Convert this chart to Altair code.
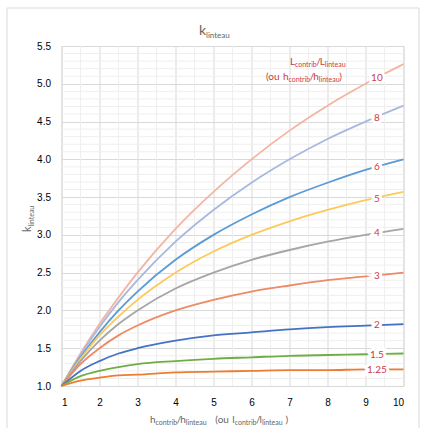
import altair as alt
import pandas as pd
import numpy as np

# ---------------- data ----------------
x_vals = [1, 1.5, 2, 2.5, 3, 4, 5, 6, 7, 8, 9, 10]
ratios = ["10", "8", "6", "5", "4", "3", "2", "1.5", "1.25"]
k_10 = [1.0, 1.43, 1.82, 2.17, 2.50, 3.08, 3.57, 4.00, 4.38, 4.71, 5.00, 5.26]
k_8 = [1.0, 1.41, 1.78, 2.11, 2.40, 2.91, 3.33, 3.69, 4.00, 4.27, 4.50, 4.71]
k_6 = [1.0, 1.38, 1.71, 2.00, 2.25, 2.67, 3.00, 3.27, 3.50, 3.69, 3.86, 4.00]
k_5 = [1.0, 1.36, 1.67, 1.92, 2.14, 2.50, 2.78, 3.00, 3.18, 3.33, 3.46, 3.57]
k_4 = [1.0, 1.33, 1.60, 1.82, 2.00, 2.29, 2.50, 2.67, 2.80, 2.91, 3.00, 3.08]
k_3 = [1.0, 1.29, 1.50, 1.67, 1.80, 2.00, 2.14, 2.25, 2.33, 2.40, 2.45, 2.50]
k_2 = [1.0, 1.20, 1.33, 1.43, 1.50, 1.60, 1.67, 1.71, 1.75, 1.78, 1.80, 1.82]
k_15 = [1.0, 1.13, 1.20, 1.25, 1.29, 1.33, 1.36, 1.38, 1.40, 1.41, 1.42, 1.43]
k_125 = [1.0, 1.07, 1.11, 1.14, 1.15, 1.18, 1.19, 1.20, 1.21, 1.21, 1.22, 1.22]
series = [k_10, k_8, k_6, k_5, k_4, k_3, k_2, k_15, k_125]
colors = ["#F3B5A2", "#A9B8DF", "#5B9BD5", "#FBCB5A", "#A5A5A5",
          "#EE8A65", "#4472C4", "#70AD47", "#ED7D31"]

label_x = 9.3
label_k = [5.07, 4.55, 3.90, 3.48, 3.03, 2.45, 1.81, 1.41, 1.21]

x_ticks = list(range(1, 11))
y_ticks = [1.0, 1.5, 2.0, 2.5, 3.0, 3.5, 4.0, 4.5, 5.0, 5.5]

# ---------------- tables ----------------
rows = []
for r, ks in zip(ratios, series):
    for x, k in zip(x_vals, ks):
        rows.append({"x": x, "k": k, "ratio": r})
df = pd.DataFrame(rows)
lab = pd.DataFrame({"x": [label_x] * len(ratios), "k": label_k, "ratio": ratios})

x_minor = pd.DataFrame({"v": [v + 0.5 for v in x_ticks[:-1]]})
y_minor = pd.DataFrame({"v": [round(v, 1) for v in np.arange(1.1, 5.5, 0.1)
                              if abs(round(v * 10) % 5) != 0]})

W, H = 342, 340
xs = alt.Scale(domain=[1, 10], nice=False)
ys = alt.Scale(domain=[1.0, 5.5], nice=False)
FONT = "Lato"
GRAY = "#666666"
RED = "#CC3B47"

ax_x = alt.Axis(values=x_ticks, title=None, grid=True, gridColor="#d9d9d9", ticks=False,
                domain=False, labelPadding=11, format="d")
ax_y = alt.Axis(values=y_ticks, title=None, grid=True, gridColor="#d9d9d9", ticks=False,
                domain=False, labelPadding=11, format=".1f")

minor_x = alt.Chart(x_minor).mark_rule(color="#efefef", strokeWidth=1).encode(
    x=alt.X("v:Q", scale=xs, axis=ax_x))
minor_y = alt.Chart(y_minor).mark_rule(color="#efefef", strokeWidth=1).encode(
    y=alt.Y("v:Q", scale=ys, axis=ax_y))

color = alt.Color("ratio:N", scale=alt.Scale(domain=ratios, range=colors), legend=None)

lines = alt.Chart(df).mark_line(interpolate="monotone", strokeWidth=1.8).encode(
    x=alt.X("x:Q", scale=xs, axis=ax_x),
    y=alt.Y("k:Q", scale=ys, axis=ax_y),
    color=color,
    detail="ratio:N",
)

halo = alt.Chart(lab).mark_text(font=FONT, fontSize=10, color="white", stroke="white",
                                strokeWidth=6).encode(
    x=alt.X("x:Q", scale=xs, axis=ax_x), y=alt.Y("k:Q", scale=ys, axis=ax_y), text="ratio:N")
labels = alt.Chart(lab).mark_text(font=FONT, fontSize=10, color=RED).encode(
    x=alt.X("x:Q", scale=xs, axis=ax_x), y=alt.Y("k:Q", scale=ys, axis=ax_y), text="ratio:N")

# ---------------- rich text helper (subscripts) ----------------
CW = {"i": 0.24, "l": 0.24, "t": 0.33, "r": 0.36, "f": 0.3, "(": 0.3, ")": 0.3,
      "/": 0.36, " ": 0.26, "L": 0.5, "k": 0.5, "h": 0.55, "n": 0.55,
      "o": 0.55, "u": 0.55, "c": 0.45, "e": 0.52, "a": 0.5, "b": 0.55}


def tw(s, size):
    return sum(CW.get(c, 0.52) for c in s) * size


def rich(pieces, x0, y0, col, angle=0):
    out = []
    cur = 0.0
    for piece in pieces:
        text, size, shift = piece[:3]
        gap = piece[3] if len(piece) > 3 else 0
        cur += gap
        if angle == 0:
            px, py = x0 + cur, y0 + shift
        else:
            px, py = x0 + shift, y0 - cur
        out.append(alt.Chart(pd.DataFrame({"t": [text]})).mark_text(
            font=FONT, fontSize=size, color=col, align="left", baseline="alphabetic",
            angle=angle).encode(x=alt.value(px), y=alt.value(py), text="t:N"))
        cur += tw(text, size)
    return out


ox, oy = 61.5, 46
title = rich([("k", 14, 0), ("linteau", 8, 3)], 199 - ox, 35 - oy, GRAY)
ytitle = rich([("k", 11, 0), ("linteau", 7, 3)], 31 - ox, 232 - oy, GRAY, angle=270)
xtitle = rich([("h", 10, 0), ("contrib", 7, 2), ("/", 10, 0), ("h", 10, 0),
               ("linteau", 7, 2), ("(ou", 10, 0, 9), ("l", 10, 0, 3),
               ("contrib", 7, 2), ("/", 10, 0), ("l", 10, 0), ("linteau", 7, 2),
               (")", 10, 0, 3)],
              150 - ox, 423 - oy, GRAY)
ann1 = rich([("L", 10, 0), ("contrib", 7, 2), ("/", 10, 0), ("L", 10, 0),
             ("linteau", 7, 2)], 290 - ox, 65 - oy, RED)
ann2 = rich([("(ou", 10, 0), ("h", 10, 0, 3), ("contrib", 7, 2), ("/", 10, 0),
             ("h", 10, 0), ("linteau", 7, 2), (")", 10, 0)], 266 - ox, 80 - oy, RED)

frame = alt.Chart(pd.DataFrame({"a": [0]})).mark_rect(
    fill=None, stroke="#d9d9d9", strokeWidth=1).encode(
    x=alt.value(7 - ox), x2=alt.value(419 - ox), y=alt.value(8 - oy), y2=alt.value(440 - oy))

chart = alt.layer(
    minor_x, minor_y, lines, halo, labels, frame,
    *title, *ytitle, *xtitle, *ann1, *ann2
).properties(
    width=W, height=H,
    autosize=alt.AutoSizeParams(type="none"),
    padding={"left": 61.5, "top": 46, "right": 427 - 61.5 - W, "bottom": 428 - 46 - H},
).configure_view(
    stroke="#b3b3b3", strokeWidth=1
).configure_axis(
    labelFont=FONT, labelFontSize=9.5, labelColor=GRAY
).configure(background="white")

chart.save("out.html", embed_options={"renderer": "svg", "actions": False})
